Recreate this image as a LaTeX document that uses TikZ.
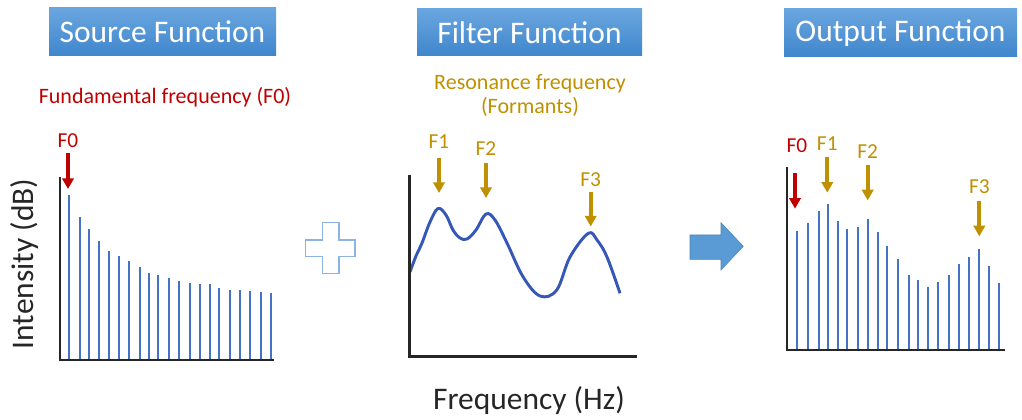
\documentclass[tikz,border=0pt]{standalone}
\usepackage{fontspec}
\setmainfont{Carlito}
\usetikzlibrary{arrows.meta}
\definecolor{boxtop}{HTML}{6AA6DF}
\definecolor{boxbot}{HTML}{3F86CC}
\definecolor{fred}{HTML}{C00000}
\definecolor{fgold}{HTML}{BF9000}
\definecolor{barblue}{HTML}{4472C4}
\definecolor{curveblue}{HTML}{3558B8}
\definecolor{plusblue}{HTML}{8DB3DF}
\definecolor{arrowblue}{HTML}{5B9BD5}
\tikzset{
  titlebox/.style={draw=none, top color=boxtop, bottom color=boxbot, text=white,
    font=\fontsize{23.6pt}{26pt}\selectfont, inner sep=0pt, anchor=center},
  axis/.style={line width=1.8pt, black!85},
  bar/.style={line width=1.6pt, barblue},
  marker/.style={line width=2.8pt, -{Triangle[width=8.5pt,length=8pt]}},
  lbl/.style={font=\fontsize{16pt}{18pt}\selectfont, inner sep=0pt},
  sublbl/.style={font=\fontsize{16.5pt}{19pt}\selectfont, inner sep=0pt, align=center},
  biglbl/.style={font=\fontsize{23.6pt}{26pt}\selectfont, inner sep=0pt, text=black!85},
}
\begin{document}
\begin{tikzpicture}[x=0.75pt,y=-0.75pt]
\useasboundingbox (0,0) rectangle (1022,420);
% title boxes
\node[titlebox, minimum width=227*0.75pt, minimum height=48*0.75pt] (src) at (162.5,32) {Source Function};
\node[titlebox, minimum width=225*0.75pt, minimum height=47*0.75pt] (flt) at (529.5,32.5) {Filter Function};
\node[titlebox, minimum width=233*0.75pt, minimum height=48*0.75pt] (out) at (900.5,33) {Output Function};
% subtitles
\node[sublbl, text=fred] (fund) at (165,97) {Fundamental frequency (F0)};
\node[sublbl, text=fgold] (reso) at (530,84) {Resonance frequency};
\node[sublbl, text=fgold] (form) at (530,107) {(Formants)};
% axis labels
\node[biglbl, rotate=90] (inten) at (25,264) {Intensity (dB)};
\node[biglbl] (freq) at (529,401) {Frequency (Hz)};

% ---------- Source plot ----------
\foreach \x/\t in {69/195,80/217.3,89/228.7,98.7/241,109/251,119.3/255.7,129.3/261.3,140/267.3,149.3/272.7,158/275.3,168.7/278,179.3/280.7,189.7/283.3,200/283.7,210/284.3,219/288.3,230/290,240/290.3,250/291,261.3/292,270.7/293.3}
  \draw[bar] (\x,360) -- (\x,\t);
\draw[axis] (60,177) -- (60,360) -- (274,360);
\node[lbl, text=fred] (sf0) at (68,141) {F0};
\draw[marker, fred] (68,153) -- (68,189);

% plus sign
\draw[plusblue, line width=1.1pt]
  (322.3,222.7) -- (339,222.7) -- (339,240) -- (355,240) -- (355,256.7) -- (339,256.7)
  -- (339,273.3) -- (322.3,273.3) -- (322.3,256.7) -- (305.7,256.7) -- (305.7,240)
  -- (322.3,240) -- cycle;

% ---------- Filter plot ----------
\draw[curveblue, line width=2.2pt, line join=round] plot[smooth, tension=0.6] coordinates {
  (410,272) (416,256) (422,243) (430,222) (438,208.5) (446,215) (453,230) (460,238) (467,239)
  (476,230) (486,214) (495,220) (507,243) (523,276.7) (540,296) (556.7,290) (570,257)
  (588.3,233.3) (597,240) (607,257) (620,293.3)};
\draw[axis] (409.3,175) -- (409.3,356.7) -- (636.7,356.7);
\node[lbl, text=fgold] (ff1) at (439,142) {F1};
\draw[marker, fgold] (439,158.3) -- (439,193);
\node[lbl, text=fgold] (ff2) at (486,148.5) {F2};
\draw[marker, fgold] (486,163.3) -- (486,198);
\node[lbl, text=fgold] (ff3) at (590.7,179.5) {F3};
\draw[marker, fgold] (590.7,191.7) -- (590.7,226.5);

% big arrow
\fill[arrowblue, draw=arrowblue!85!black, line width=0.4pt]
  (690,235) -- (721,235) -- (721,222.7) -- (743.3,246.3) -- (721,270) -- (721,259.3)
  -- (690,259.3) -- cycle;

% ---------- Output plot ----------
\foreach \x/\t in {796.7/231,807.7/222.7,819/210.7,827.7/204.3,837.7/221,846.7/229.3,858/227,868.3/219.3,878/232.3,887.3/246,898.3/258.7,908.7/274.7,918/280.3,928.3/287.3,938.3/282,949/275.3,959/264.3,969.3/257.3,979/249.3,989/265.7,999.3/282.7}
  \draw[bar] (\x,350) -- (\x,\t);
\draw[axis] (786.7,166.7) -- (786.7,350) -- (1005,350);
\node[lbl, text=fred] (of0) at (797,145.5) {F0};
\draw[marker, fred] (795,173.3) -- (795,208.7);
\node[lbl, text=fgold] (of1) at (827.3,143.5) {F1};
\draw[marker, fgold] (827.3,157.3) -- (827.3,192.7);
\node[lbl, text=fgold] (of2) at (867.7,152) {F2};
\draw[marker, fgold] (867.7,165) -- (867.7,200.4);
\node[lbl, text=fgold] (of3) at (979.3,187) {F3};
\draw[marker, fgold] (979.3,201) -- (979.3,236.4);
\end{tikzpicture}
\end{document}
